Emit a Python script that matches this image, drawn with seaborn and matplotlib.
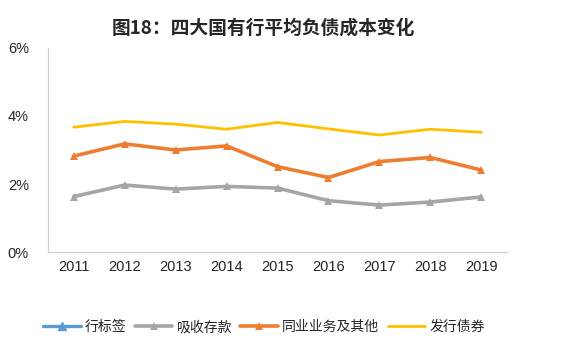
import matplotlib
matplotlib.use("Agg")
import matplotlib.pyplot as plt
import seaborn as sns
import pandas as pd

# data (cost rate, %)
years = ["2011", "2012", "2013", "2014", "2015", "2016", "2017", "2018", "2019"]
deposits = [1.63, 1.97, 1.85, 1.93, 1.88, 1.51, 1.38, 1.47, 1.62]
interbank = [2.82, 3.18, 3.00, 3.12, 2.51, 2.19, 2.66, 2.78, 2.41]
bonds = [3.67, 3.84, 3.76, 3.61, 3.81, 3.62, 3.44, 3.61, 3.52]
yticks = [0, 2, 4, 6]

sns.set_theme(style="white")
plt.rcParams["font.family"] = ["Noto Sans CJK SC", "DejaVu Sans"]

fig = plt.figure(figsize=(5.74, 3.55), dpi=100)
ax = fig.add_axes([0.084, 0.29, 0.799, 0.575])

x = list(range(len(years)))

# empty series, only shows up in the legend
ax.plot([], [], color="#5B9BD5", lw=2.4, marker="^", ms=6, label="行标签")
sns.lineplot(x=x, y=deposits, ax=ax, color="#A5A5A5", lw=2.6, marker="^",
             markersize=6, markeredgewidth=0, label="吸收存款")
sns.lineplot(x=x, y=interbank, ax=ax, color="#ED7D31", lw=2.6, marker="^",
             markersize=6, markeredgewidth=0, label="同业业务及其他")
sns.lineplot(x=x, y=bonds, ax=ax, color="#FFC000", lw=2.0,
             label="发行债券")

ax.set_xlim(-0.5, len(years) - 0.5)
ax.set_ylim(0, 6)
ax.set_xticks(x)
ax.set_xticklabels(years, fontsize=10.5, family=["Liberation Sans", "DejaVu Sans"])
ax.set_yticks(yticks)
ax.set_yticklabels([f"{v}%" for v in yticks], fontsize=10.5,
                   family=["Liberation Sans", "DejaVu Sans"])
ax.tick_params(axis="both", length=0, pad=6)
ax.tick_params(axis="y", pad=14)

for side in ["top", "right"]:
    ax.spines[side].set_visible(False)
for side in ["left", "bottom"]:
    ax.spines[side].set_color("#D0D0D0")
    ax.spines[side].set_linewidth(0.9)

ax.legend(loc="center", bbox_to_anchor=(0.46, 0.078), bbox_transform=fig.transFigure,
          ncol=4, frameon=False, fontsize=10, handlelength=2.7,
          columnspacing=0.6, handletextpad=0.3)

fig.text(0.459, 0.92, "图18：四大国有行平均负债成本变化", ha="center", va="center",
         fontsize=13.5, fontweight="bold")

fig.savefig("out.png", dpi=100, facecolor="white")
